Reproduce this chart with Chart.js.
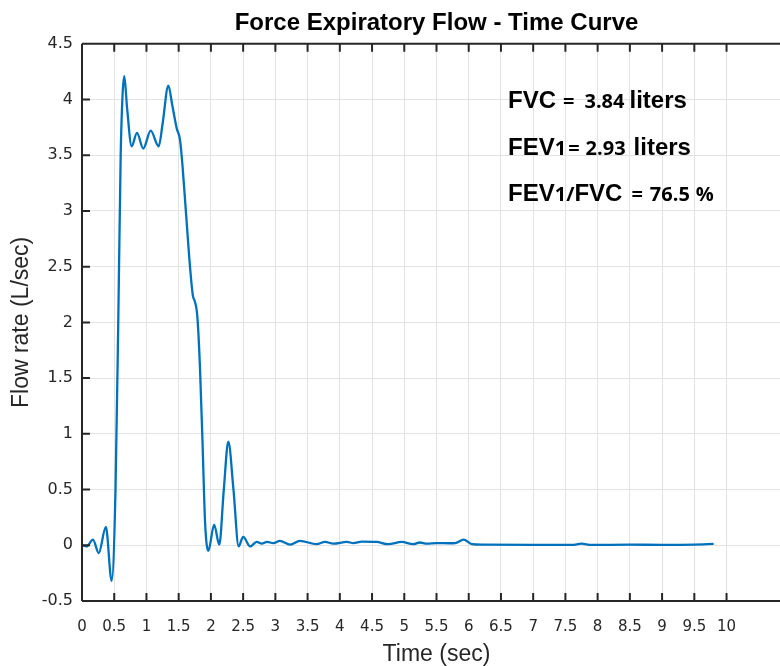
<!DOCTYPE html>
<html>
<head>
<meta charset="utf-8">
<script src="https://cdn.jsdelivr.net/npm/chart.js@4/dist/chart.umd.min.js"></script>
<style>
  html, body { margin: 0; padding: 0; background: #ffffff; overflow: hidden; }
  #wrap { width: 780px; height: 666px; overflow: hidden; }
</style>
</head>
<body>
<div id="wrap"><canvas id="FlowChart" width="810" height="680"></canvas></div>
<script>
// time (sec) and flow rate (L/sec)
var TimeSec = [0, 0.07, 0.17, 0.26, 0.37, 0.46, 0.52, 0.565, 0.60, 0.63, 0.656, 0.70, 0.77, 0.853, 0.95,
    1.066, 1.19, 1.25, 1.34, 1.40, 1.47, 1.52, 1.56, 1.61, 1.68, 1.72, 1.75, 1.79, 1.83, 1.87, 1.91, 1.96,
    2.05, 2.13, 2.20, 2.27, 2.35, 2.43, 2.50, 2.61, 2.71, 2.79, 2.87, 2.97, 3.07, 3.23, 3.38, 3.64, 3.77,
    3.90, 4.11, 4.21, 4.34, 4.57, 4.75, 4.96, 5.14, 5.24, 5.35, 5.50, 5.71, 5.79, 5.92, 6.05, 6.23, 7.0,
    7.6, 7.75, 7.9, 8.5, 9.0, 9.5, 9.80]
var FlowRate = [0, -0.01, 0.05, -0.07, 0.165, -0.32, 0.5, 2.1, 3.5, 4.05, 4.21, 3.92, 3.58, 3.70, 3.56,
    3.72, 3.58, 3.78, 4.125, 3.95, 3.74, 3.64, 3.4, 3.01, 2.47, 2.24, 2.19, 2.05, 1.60, 0.92, 0.2, -0.05,
    0.185, 0.005, 0.5, 0.93, 0.50, -0.01, 0.075, -0.01, 0.03, 0.015, 0.03, 0.02, 0.04, 0.005, 0.04, 0.01, 0.03,
    0.015, 0.03, 0.02, 0.033, 0.03, 0.01, 0.03, 0.01, 0.025, 0.015, 0.02, 0.018, 0.02, 0.05, 0.01, 0.005, 0.003,
    0.003, 0.015, 0.003, 0.005, 0.004, 0.006, 0.012]

var XTickMax = 10
var ChartTitle = 'Force Expiratory Flow - Time Curve'
var NoteLines = [
    [['FVC', 'big', 7], ['=', 'num', 10], ['3.84', 'num', 5], ['liters', 'big', 0]],
    [['FEV', 'big', 0], ['1', 'num', 2], ['=', 'num', 6], ['2.93', 'num', 8], ['liters', 'big', 0]],
    [['FEV', 'big', 0], ['1/', 'num', 0], ['FVC', 'big', 9], ['=', 'num', 7], ['76.5', 'num', 6], ['%', 'num', 0]]
]
var NoteAnchorX = 6.61
var NoteBaselineY = [3.92, 3.50, 3.09]

var PointsFlow = []
for (var i = 0; i < TimeSec.length; i++) {
    PointsFlow.push({ x: TimeSec[i], y: FlowRate[i] })
}

var FontBig = 'bold 24px "Liberation Sans", Arial, sans-serif'
var FontNum = 'bold 20px "Open Sans", sans-serif'
var AxisColor = '#262626'

var InnerBox = {
    id: 'InnerBox',
    afterDraw: function (chart) {
        var ctx = chart.ctx
        var area = chart.chartArea
        var xs = chart.scales.x, ys = chart.scales.y
        ctx.save()
        ctx.strokeStyle = AxisColor
        ctx.lineWidth = 2
        ctx.beginPath()
        ctx.moveTo(area.left, area.top); ctx.lineTo(chart.width, area.top)
        ctx.moveTo(area.left, area.top); ctx.lineTo(area.left, area.bottom)
        ctx.moveTo(area.left, area.bottom); ctx.lineTo(chart.width, area.bottom)
        xs.ticks.forEach(function (t) {
            var px = xs.getPixelForValue(t.value)
            ctx.moveTo(px, area.bottom); ctx.lineTo(px, area.bottom - 8)
            ctx.moveTo(px, area.top); ctx.lineTo(px, area.top + 8)
        })
        ys.ticks.forEach(function (t) {
            var py = ys.getPixelForValue(t.value)
            ctx.moveTo(area.left, py); ctx.lineTo(area.left + 8, py)
        })
        ctx.stroke()

        // text notes
        ctx.fillStyle = '#000000'
        ctx.textBaseline = 'alphabetic'
        ctx.textAlign = 'left'
        for (var l = 0; l < NoteLines.length; l++) {
            var x = xs.getPixelForValue(NoteAnchorX)
            var y = ys.getPixelForValue(NoteBaselineY[l])
            NoteLines[l].forEach(function (p) {
                ctx.font = p[1] == 'big' ? FontBig : FontNum
                ctx.fillText(p[0], x, y)
                x += ctx.measureText(p[0]).width + p[2]
            })
        }
        ctx.restore()
    }
}

var FlowChartElement = document.getElementById('FlowChart').getContext('2d')
var FlowChart = new Chart(FlowChartElement, {
    type: 'line',
    data: {
        datasets: [{
            data: PointsFlow,
            borderColor: '#0072BD',
            borderWidth: 2.3,
            pointRadius: 0,
            fill: false,
            cubicInterpolationMode: 'monotone'
        }]
    },
    plugins: [InnerBox],
    options: {
        responsive: false,
        animation: false,
        layout: { padding: { left: 0, right: 19, top: 0, bottom: 0 } },
        plugins: {
            legend: { display: false },
            tooltip: { enabled: false },
            title: {
                display: true,
                text: ChartTitle,
                fullSize: false,
                color: '#000000',
                font: { family: '"Liberation Sans", Arial, sans-serif', size: 24, weight: 'bold' },
                padding: { top: 9, bottom: 6 }
            }
        },
        scales: {
            x: {
                type: 'linear',
                min: 0,
                max: 11,
                afterBuildTicks: function (scale) {
                    scale.ticks = scale.ticks.filter(function (t) { return t.value <= XTickMax })
                },
                afterFit: function (scale) { scale.height = 79 },
                ticks: {
                    stepSize: 0.5,
                    autoSkip: false,
                    maxRotation: 0,
                    padding: 17,
                    color: AxisColor,
                    font: { family: '"DejaVu Sans", sans-serif', size: 15 },
                    callback: function (v) { return String(v) }
                },
                grid: { color: '#e3e3e3', lineWidth: 1, drawTicks: false },
                border: { display: false },
                title: {
                    display: true,
                    text: 'Time (sec)',
                    color: AxisColor,
                    font: { family: '"Liberation Sans", Arial, sans-serif', size: 23 },
                    padding: { top: 0, bottom: 12 }
                }
            },
            y: {
                type: 'linear',
                min: -0.5,
                max: 4.5,
                afterFit: function (scale) { scale.width = 82 },
                ticks: {
                    stepSize: 0.5,
                    padding: 9,
                    color: AxisColor,
                    font: { family: '"DejaVu Sans", sans-serif', size: 16 },
                    callback: function (v) { return String(v) }
                },
                grid: { color: '#e3e3e3', lineWidth: 1, drawTicks: false },
                border: { display: false },
                title: {
                    display: true,
                    text: 'Flow rate (L/sec)',
                    color: AxisColor,
                    font: { family: '"Liberation Sans", Arial, sans-serif', size: 23 },
                    padding: { top: 8, bottom: 0 }
                }
            }
        }
    }
})
</script>
</body>
</html>
